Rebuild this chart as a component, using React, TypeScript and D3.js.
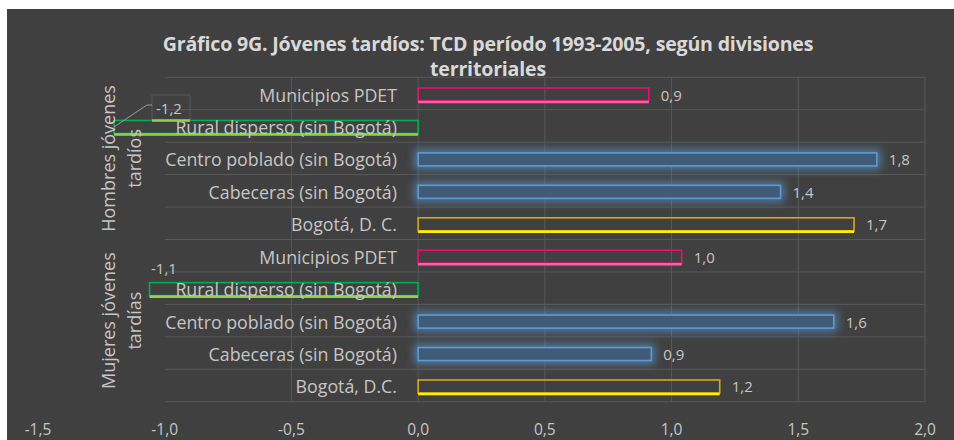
import React from "react";
import * as d3 from "d3";

const categoriesH = ["Municipios PDET", "Rural disperso (sin Bogotá)", "Centro poblado (sin Bogotá)", "Cabeceras (sin Bogotá)", "Bogotá, D. C."];
const categoriesM = ["Municipios PDET", "Rural disperso (sin Bogotá)", "Centro poblado (sin Bogotá)", "Cabeceras (sin Bogotá)", "Bogotá, D.C."];
const valuesH = [0.91, -1.2, 1.81, 1.43, 1.72];
const valuesM = [1.04, -1.06, 1.64, 0.92, 1.19];
const kinds = ["pdet", "rural", "blue", "blue", "bogota"];
const groups = [["Hombres jóvenes", "tardíos"], ["Mujeres jóvenes", "tardías"]];
const ticks = [-1.5, -1.0, -0.5, 0.0, 0.5, 1.0, 1.5, 2.0];
const titleLines = ["Gráfico 9G. Jóvenes tardíos: TCD período 1993-2005, según divisiones", "territoriales"];

const W = 954, H = 440;
const FONT = "'Open Sans', Lato, sans-serif";
const TXT = "#c6c6c6";
const GRID = "#585858";
const styles: Record<string, { stroke: string; bottom: string; fill: string }> = {
  pdet: { stroke: "#e8106a", bottom: "#ff5cb0", fill: "none" },
  rural: { stroke: "#00b050", bottom: "#92d050", fill: "none" },
  blue: { stroke: "#5b9bd5", bottom: "#5b9bd5", fill: "#3f5b77" },
  bogota: { stroke: "#d9a51a", bottom: "#ffef00", fill: "none" },
};

const fmt = (v: number) => v.toFixed(1).replace(".", ",");

export default function App() {
  const x = d3.scaleLinear().domain([-1.5, 2]).range([38, 925]);
  const rows = [
    ...categoriesH.map((c, i) => ({ key: "h" + i, cat: c, v: valuesH[i], kind: kinds[i], g: 0 })),
    ...categoriesM.map((c, i) => ({ key: "m" + i, cat: c, v: valuesM[i], kind: kinds[i], g: 1 })),
  ];
  const y = d3.scaleBand<string>().domain(rows.map((r) => r.key)).range([77.3, 401.7]).padding(0);
  const bw = y.bandwidth();
  const barH = 13;
  const gridLeft = x(-1.0);
  const top = 77.3, bottom = 401.7;

  return (
    <svg width={W} height={H} style={{ position: "absolute", left: 0, top: 0 }} fontFamily={FONT}>
      <defs>
        <filter id="glow" x="-10%" y="-150%" width="120%" height="400%">
          <feGaussianBlur stdDeviation="4" />
        </filter>
      </defs>
      <rect x={0} y={0} width={W} height={H} fill="#ffffff" />
      <rect x={7} y={9} width={W - 7} height={H - 9} fill="#404040" />
      {/* title */}
      {titleLines.map((t, i) => (
        <text key={t} x={488} y={43 + i * 25} textAnchor="middle" dominantBaseline="central" fontSize={19.6} fontWeight="bold" fill="#d9d9d9" letterSpacing={-0.2}>
          {t}
        </text>
      ))}
      {/* grid */}
      {d3.range(rows.length + 1).map((i) => {
        const yy = top + i * bw;
        return <line key={"hg" + i} x1={gridLeft} x2={x(2)} y1={yy} y2={yy} stroke={GRID} strokeWidth={1} />;
      })}
      {ticks.filter((t) => t >= -0.5).map((t) => (
        <line key={"vg" + t} x1={x(t)} x2={x(t)} y1={top} y2={bottom} stroke={GRID} strokeWidth={1} />
      ))}
      {/* bars */}
      {rows.map((r) => {
        const s = styles[r.kind];
        const cy = (y(r.key) as number) + bw / 2 + 1;
        const x0 = x(Math.min(0, r.v));
        const x1 = x(Math.max(0, r.v));
        const y0 = cy - barH / 2;
        return (
          <g key={r.key}>
            {r.kind === "blue" && (
              <rect x={x0 - 4} y={y0 - 4} width={x1 - x0 + 8} height={barH + 8} fill="#5b9bd5" opacity={0.6} filter="url(#glow)" />
            )}
            <rect x={x0} y={y0} width={x1 - x0} height={barH} fill={s.fill} stroke={s.stroke} strokeWidth={1.6} />
            {r.kind !== "blue" && (
              <line x1={x0} x2={x1} y1={y0 + barH + 1} y2={y0 + barH + 1} stroke={s.bottom} strokeWidth={2.6} />
            )}
          </g>
        );
      })}
      {/* category labels */}
      {rows.map((r) => (
        <text key={"c" + r.key} x={397} y={(y(r.key) as number) + bw / 2 + 1} textAnchor="end" dominantBaseline="central" fontSize={17.8} fill={TXT}>
          {r.cat}
        </text>
      ))}
      {/* group labels */}
      {groups.map((g, gi) => {
        const cy = top + (gi * 5 + 2.5) * bw;
        return (
          <g key={"g" + gi}>
            {g.map((line, li) => (
              <text key={line} transform={`translate(${108 + li * 26},${cy}) rotate(-90)`} textAnchor="middle" dominantBaseline="central" fontSize={18} fill={TXT}>
                {line}
              </text>
            ))}
          </g>
        );
      })}
      {/* data labels */}
      {rows.map((r) => {
        const cy = (y(r.key) as number) + bw / 2 + 1;
        if (r.v >= 0) {
          return (
            <text key={"d" + r.key} x={x(r.v) + 12} y={cy} dominantBaseline="central" fontSize={15} fill={TXT}>
              {fmt(r.v)}
            </text>
          );
        }
        if (r.g === 0) {
          const bx = x(r.v);
          const by0 = cy - barH / 2;
          return (
            <g key={"d" + r.key}>
              <rect x={152} y={95} width={38} height={by0 - 95} fill="none" stroke="#595959" strokeWidth={1} />
              <line x1={152} x2={190} y1={by0} y2={by0} stroke="#92d050" strokeWidth={2.6} />
              <polyline points={`${bx},${cy} 147,105 152,105`} fill="none" stroke="#9a9a9a" strokeWidth={1} />
              <text x={156} y={108} dominantBaseline="central" fontSize={15} fill={TXT}>
                {fmt(r.v)}
              </text>
            </g>
          );
        }
        return (
          <text key={"d" + r.key} x={151} y={268} dominantBaseline="central" fontSize={15} fill={TXT}>
            {fmt(r.v)}
          </text>
        );
      })}
      {/* x axis tick labels */}
      {ticks.map((t) => (
        <text key={"t" + t} x={x(t)} y={429} textAnchor="middle" dominantBaseline="central" fontSize={15.5} fill={TXT}>
          {fmt(t)}
        </text>
      ))}
    </svg>
  );
}
